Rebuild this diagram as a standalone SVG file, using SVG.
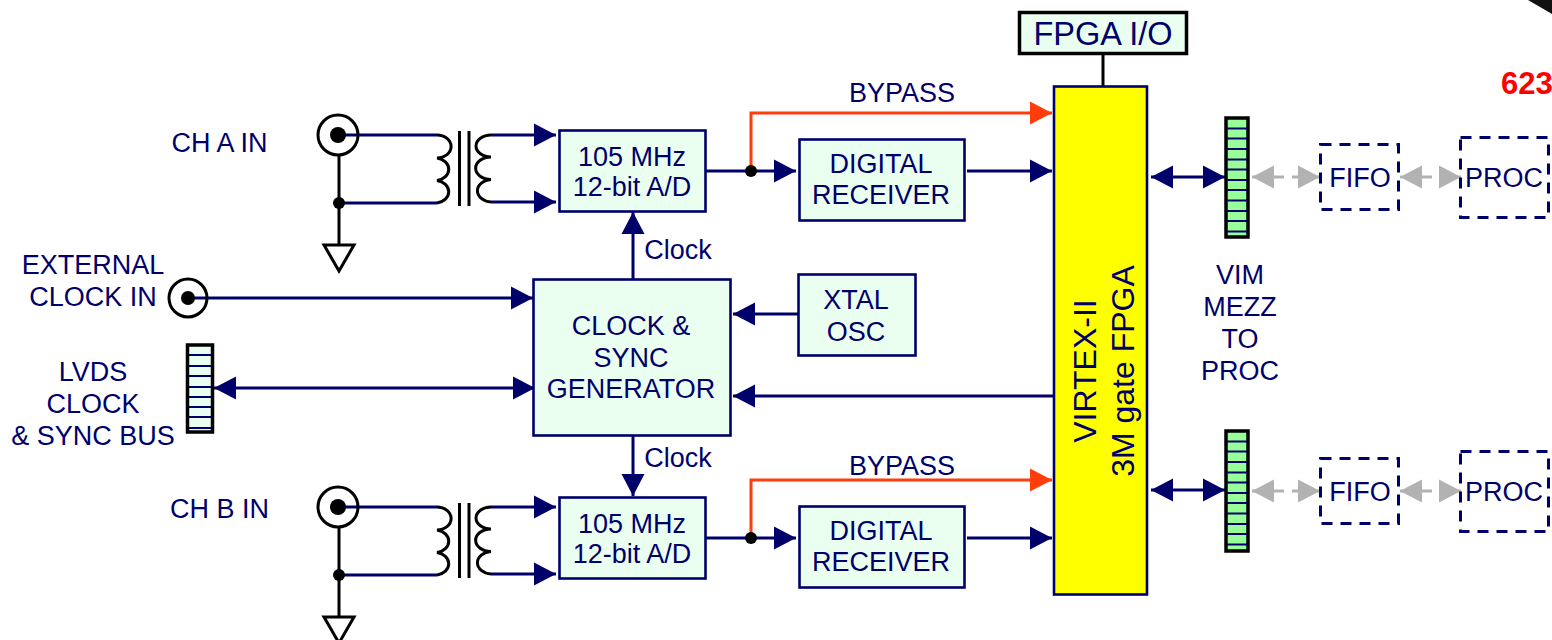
<svg xmlns="http://www.w3.org/2000/svg" width="1552" height="640" viewBox="0 0 1552 640">
<style>
text{font-family:"Liberation Sans",Arial,sans-serif;font-size:27px;fill:#00006b;text-anchor:middle}
.box{fill:#ebfff0;stroke:#00006b;stroke-width:2.6}
.blk{fill:#ebfff0;stroke:#000;stroke-width:3.5}
.dash{fill:none;stroke:#00006b;stroke-width:3;stroke-dasharray:11 8}
.w{fill:none;stroke:#00006b;stroke-width:3}
.o{fill:none;stroke:#ff3d0a;stroke-width:3}
.g{fill:none;stroke:#b2b2b2;stroke-width:3}
.k{fill:none;stroke:#000;stroke-width:3}
.coax{fill:none;stroke:#000;stroke-width:3}
.st{stroke:#00006b;stroke-width:2.2}
.na{marker-end:url(#an)}
.nb{marker-start:url(#an);marker-end:url(#an)}
.oa{marker-end:url(#ao)}
.ga{marker-end:url(#ag)}
</style>
<defs>
<marker id="an" markerUnits="userSpaceOnUse" markerWidth="22" markerHeight="24" refX="22" refY="12" orient="auto-start-reverse"><path d="M0 .5L22 12L0 23.500Z" fill="#00006b"/></marker>
<marker id="ao" markerUnits="userSpaceOnUse" markerWidth="22" markerHeight="24" refX="22" refY="12" orient="auto"><path d="M0 .5L22 12L0 23.500Z" fill="#ff3d0a"/></marker>
<marker id="ag" markerUnits="userSpaceOnUse" markerWidth="22" markerHeight="24" refX="22" refY="12" orient="auto"><path d="M0 .5L22 12L0 23.500Z" fill="#b2b2b2"/></marker>
<g id="xf">
<path class="k" d="M437 135A14 11.400 0 0 1 437 158A14 11.400 0 0 1 437 180.500A14 11.400 0 0 1 437 203"/>
<path class="k" d="M491 135A15 11 0 0 0 491 157A15 11 0 0 0 491 179.500A15 11.300 0 0 0 491 202"/>
<path class="k" d="M459.500 131V206M469 131V206"/>
</g>
<g id="stripesG">
<path class="st" d="M1227 128.500H1247M1227 138.500H1247M1227 149H1247M1227 159.500H1247M1227 169.500H1247M1227 180H1247M1227 190H1247M1227 200.500H1247M1227 211H1247M1227 221H1247M1227 231.500H1247"/>
</g>
</defs>

<g id="connectors">
<path class="w" d="M338 135H437M339 203H437"/>
<path class="w" d="M338 507H437M339 575H437"/>
<path class="w na" d="M491 135H556"/>
<path class="w na" d="M491 202H556"/>
<path class="w na" d="M491 507H556"/>
<path class="w na" d="M491 574H556"/>
<path class="k" d="M339 155V245M339 527V617"/>
<path class="w na" d="M188 298H533"/>
<path class="w nb" d="M214 388H535"/>
<path class="w na" d="M633 279V212"/>
<path class="w na" d="M633 435V496"/>
<path class="w na" d="M798 314H733"/>
<path class="w na" d="M1054 396H733"/>
<path class="w na" d="M705 171H796"/>
<path class="w na" d="M705 538H796"/>
<path class="o oa" d="M751 171V113H1052"/>
<path class="o oa" d="M751 538V480H1052"/>
<path class="w na" d="M967 171H1052"/>
<path class="w na" d="M967 538H1052"/>
<path class="k" d="M1103 54V86"/>
<path class="w nb" d="M1151 177H1225"/>
<path class="w nb" d="M1151 490H1225"/>
<path class="g ga" d="M1284 177H1252"/>
<path class="g ga" d="M1292 177H1320"/>
<path class="g ga" d="M1432 177H1400"/>
<path class="g ga" d="M1440 177H1461"/>
<path class="g ga" d="M1284 491H1252"/>
<path class="g ga" d="M1292 491H1320"/>
<path class="g ga" d="M1432 491H1400"/>
<path class="g ga" d="M1440 491H1461"/>
<circle cx="751" cy="171" r="6"/>
<circle cx="751" cy="538" r="6"/>
<circle cx="339" cy="203" r="6"/>
<circle cx="339" cy="575" r="6"/>
</g>

<g id="ch-a-in">
<text x="219.500" y="152">CH A IN</text>
<circle class="coax" cx="338" cy="135" r="20"/>
<circle cx="338" cy="135" r="8"/>
<path class="k" d="M324 245H354L339 271Z"/>
</g>
<use id="transformer-a" href="#xf"/>
<g id="ch-b-in">
<text x="219.500" y="518">CH B IN</text>
<circle class="coax" cx="338" cy="507" r="20"/>
<circle cx="338" cy="507" r="8"/>
<path class="k" d="M324 617H354L339 643Z"/>
</g>
<use id="transformer-b" href="#xf" y="372"/>
<g id="ext-clock">
<text x="93" y="274">EXTERNAL</text>
<text x="93" y="306">CLOCK IN</text>
<circle class="coax" cx="188" cy="298" r="19"/>
<circle cx="188" cy="298" r="7"/>
</g>
<g id="lvds">
<text x="93" y="381">LVDS</text>
<text x="93" y="413">CLOCK</text>
<text x="93" y="445">&amp; SYNC BUS</text>
<rect class="blk" x="187.500" y="345" width="25" height="87"/>
<path class="st" d="M189 355H211M189 366H211M189 376H211M189 387H211M189 397H211M189 407H211M189 417H211M189 428H211"/>
</g>
<g id="adc-a">
<rect class="box" x="559.500" y="130.500" width="146" height="81"/>
<text x="632" y="166">105 MHz</text>
<text x="632" y="196">12-bit A/D</text>
</g>
<g id="adc-b">
<rect class="box" x="559.500" y="497.500" width="146" height="81"/>
<text x="632" y="533">105 MHz</text>
<text x="632" y="563">12-bit A/D</text>
</g>
<g id="clock-gen">
<rect class="box" x="533.500" y="279.500" width="197" height="156"/>
<text x="631" y="335">CLOCK &amp;</text>
<text x="631" y="367">SYNC</text>
<text x="631" y="398">GENERATOR</text>
</g>
<text x="678" y="259">Clock</text>
<text x="678" y="467">Clock</text>
<g id="xtal">
<rect class="box" x="798.500" y="274.500" width="117" height="81"/>
<text x="856" y="309">XTAL</text>
<text x="856" y="341">OSC</text>
</g>
<g id="rx-a">
<rect class="box" x="799.500" y="139.500" width="165" height="81"/>
<text x="881" y="173">DIGITAL</text>
<text x="881" y="204">RECEIVER</text>
</g>
<g id="rx-b">
<rect class="box" x="799.500" y="506.500" width="165" height="81"/>
<text x="881" y="540">DIGITAL</text>
<text x="881" y="571">RECEIVER</text>
</g>
<text x="902" y="102">BYPASS</text>
<text x="902" y="475">BYPASS</text>
<g id="fpga-io">
<rect class="blk" x="1019.500" y="12.500" width="167" height="41"/>
<text x="1103" y="45" style="font-size:32.500px">FPGA I/O</text>
</g>
<g id="fpga">
<rect x="1054" y="86.500" width="93" height="508" fill="#ffff00" stroke="#00006b" stroke-width="2.600"/>
<text transform="translate(1096 371) rotate(-90)" style="font-size:32px">VIRTEX-II</text>
<text transform="translate(1134 371) rotate(-90)" style="font-size:32px">3M gate FPGA</text>
</g>
<g id="vim-a">
<rect class="blk" x="1226" y="118" width="22" height="119" style="fill:#98ff98"/>
<use href="#stripesG"/>
</g>
<g id="vim-b">
<rect class="blk" x="1226" y="431" width="22" height="120" style="fill:#98ff98"/>
<use href="#stripesG" y="313"/>
</g>
<g id="vim-label">
<text x="1240" y="284">VIM</text>
<text x="1240" y="316">MEZZ</text>
<text x="1240" y="348">TO</text>
<text x="1240" y="380">PROC</text>
</g>
<g id="fifo-a"><rect class="dash" x="1320.500" y="144.500" width="78" height="65"/><text x="1360" y="187">FIFO</text></g>
<g id="fifo-b"><rect class="dash" x="1320.500" y="458.500" width="78" height="65"/><text x="1360" y="501">FIFO</text></g>
<g id="proc-a"><rect class="dash" x="1460.500" y="137.500" width="88" height="80"/><text x="1504" y="187">PROC</text></g>
<g id="proc-b"><rect class="dash" x="1460.500" y="451.500" width="88" height="80"/><text x="1504" y="501">PROC</text></g>
<text x="1501" y="94" style="font-size:31px;font-weight:bold;fill:#ff0000;text-anchor:start">623</text>
<path d="M1528 0H1552V14Z" fill="#111"/>
</svg>
